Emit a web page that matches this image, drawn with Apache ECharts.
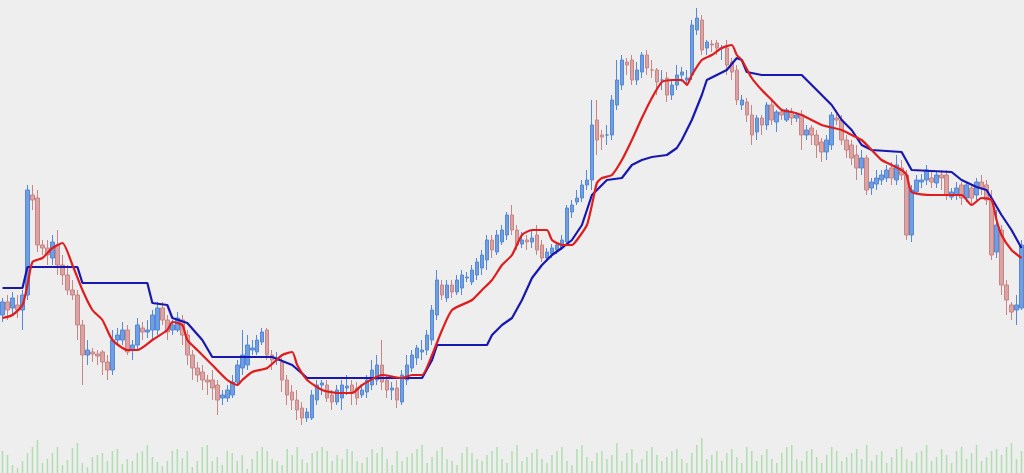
<!DOCTYPE html>
<html>
<head>
<meta charset="utf-8">
<script src="https://cdn.jsdelivr.net/npm/echarts@6/dist/echarts.min.js"></script>
<style>
  html, body { margin: 0; padding: 0; background: #eeeeee; }
  #chart { width: 1024px; height: 473px; }
</style>
</head>
<body>
<div id="chart"></div>
<script>
// candles: [open, close, low, high]
var candles = [
  [165,178,158,182],[178,170,160,185],[172,182,165,188],[175,170,162,185],[170,185,150,190],
  [185,290,180,295],[285,280,270,295],[282,235,228,290],[235,232,225,240],[232,225,215,240],
  [222,238,215,245],[235,215,205,250],[215,205,195,225],[205,190,185,215],[190,185,180,200],
  [185,155,140,190],[155,125,95,160],[125,130,115,140],[128,126,118,132],[126,124,115,130],
  [128,118,105,130],[118,110,100,125],[110,140,105,150],[140,145,135,152],[140,150,135,158],
  [150,128,125,155],[130,135,120,140],[135,155,130,162],[152,148,140,158],[148,150,142,160],
  [150,165,140,170],[150,172,145,178],[172,160,155,178],[160,148,140,165],[150,155,145,160],
  [150,162,148,168],[160,145,135,165],[145,125,115,150],[125,112,100,130],[112,105,98,118],
  [108,100,90,115],[100,98,85,105],[100,92,80,110],[95,80,65,100],[82,85,75,90],
  [82,90,78,95],[85,98,82,105],[98,115,95,120],[112,125,105,150],[115,135,110,145],
  [130,132,125,140],[128,140,125,145],[138,148,135,152],[150,125,120,152],[125,120,110,130],
  [120,122,115,128],[118,100,88,122],[100,85,75,105],[88,80,70,95],[80,70,60,90],
  [72,62,55,78],[62,68,58,72],[62,85,60,90],[80,95,75,100],[95,97,85,100],
  [95,82,78,100],[85,78,70,90],[78,90,75,95],[82,95,70,100],[92,94,85,105],
  [95,88,75,100],[92,82,75,98],[85,90,82,95],[88,100,82,105],[95,110,90,120],
  [100,115,95,125],[115,98,90,140],[100,90,82,105],[90,92,80,98],[92,80,72,100],
  [78,105,75,110],[100,115,95,125],[112,125,108,130],[122,132,115,135],[128,130,120,140],
  [130,145,125,150],[140,170,135,175],[165,200,160,210],[195,185,180,200],[182,195,178,200],
  [195,188,182,200],[188,200,185,205],[192,205,185,210],[202,203,198,208],[198,210,195,215],
  [205,218,200,222],[212,225,205,230],[220,240,210,245],[240,230,222,245],[228,245,225,250],
  [238,250,235,255],[245,265,240,268],[265,250,245,275],[250,235,230,255],[236,240,232,248],
  [240,238,230,245],[238,242,232,250],[245,230,225,255],[235,222,218,240],[222,228,218,232],
  [226,232,222,236],[230,235,226,238],[232,240,230,245],[238,272,235,275],[268,275,262,280],
  [278,282,275,290],[282,295,278,300],[295,300,290,310],[300,355,290,380],[360,340,325,380],
  [345,343,330,350],[345,345,335,355],[345,380,340,385],[375,400,370,420],[395,420,390,425],
  [418,415,405,422],[420,400,395,425],[400,410,395,418],[408,425,402,428],[425,412,405,430],
  [410,410,402,420],[410,398,385,412],[400,400,390,410],[402,385,378,408],[385,395,380,400],
  [395,405,390,415],[405,408,398,413],[400,402,395,410],[405,455,400,460],[450,462,445,472],
  [460,430,425,465],[432,438,425,440],[436,435,428,440],[437,432,425,440],[432,432,420,435],
  [432,415,405,440],[418,408,400,422],[410,380,375,415],[375,380,370,385],[378,365,358,382],
  [365,345,335,375],[348,362,340,365],[362,355,345,365],[355,375,350,378],[375,360,355,380],
  [358,368,348,370],[368,365,360,370],[360,370,358,372],[368,362,355,372],[362,365,358,368],
  [365,345,330,370],[345,350,340,355],[352,345,335,355],[345,335,322,350],[338,328,318,342],
  [328,340,320,345],[335,365,330,368],[362,360,355,370],[360,340,335,365],[340,330,322,345],
  [335,322,315,340],[325,312,300,335],[312,322,305,330],[322,290,285,325],[292,298,285,302],
  [296,302,290,310],[300,305,295,310],[302,310,298,315],[312,302,295,318],[300,315,295,325],
  [312,305,300,320],[305,245,240,310],[245,290,238,295],[288,300,285,305],[298,300,292,306],
  [300,310,295,315],[302,298,292,310],[297,305,292,308],[305,302,290,310],[305,285,280,310],
  [283,288,280,292],[285,292,280,298],[295,282,275,298],[282,295,278,298],[292,282,275,295],
  [285,298,280,302],[298,292,285,305],[295,280,275,300],[280,225,220,290],[228,255,222,270],
  [250,195,185,255],[195,180,165,200],[175,168,160,178],[170,175,155,185],[172,235,170,240]
];

// [candle index, value]
var redLine = [
  [0,162],[2,165],[4,175],[5,195],[6,218],[8,222],[10,232],[12,237],[14,215],[16,190],
  [18,170],[20,160],[22,140],[25,130],[27,130],[30,140],[33,150],[34,158],[36,155],[37,140],
  [39,130],[42,115],[45,100],[47,95],[48,100],[50,108],[53,112],[56,125],[58,128],[59,115],
  [61,100],[64,90],[67,87],[70,87],[72,95],[76,105],[80,102],[82,105],[84,105],[86,125],
  [88,150],[90,170],[94,180],[96,190],[98,200],[100,215],[102,225],[104,245],[106,250],[109,250],
  [110,240],[112,235],[114,235],[115,240],[117,255],[118,275],[119,297],[120,302],[122,305],[124,320],
  [126,340],[128,362],[130,382],[132,398],[134,400],[136,400],[137,395],[138,405],[140,420],[142,425],
  [144,432],[146,435],[147,425],[148,420],[150,402],[152,390],[154,380],[156,370],[158,368],[160,365],
  [164,355],[168,350],[170,345],[172,340],[174,330],[176,320],[178,315],[180,310],[181,305],[182,288],
  [186,285],[192,285],[194,275],[196,282],[198,280],[199,260],[200,245],[202,230],[204,222]
];
var blueLine = [
  [0,192],[4,192],[5,213],[15,213],[16,197],[29,197],[30,177],[33,175],[34,162],[37,157],
  [40,140],[42,123],[54,123],[58,115],[61,102],[84,102],[86,120],[87,135],[97,135],[98,145],
  [100,155],[102,162],[104,180],[106,202],[108,215],[110,225],[112,232],[114,240],[116,255],[118,285],
  [120,295],[121,300],[124,302],[126,315],[128,320],[130,323],[133,325],[135,332],[136,340],[138,360],
  [140,385],[141,400],[143,405],[145,410],[147,422],[148,420],[149,408],[152,405],[160,405],[162,395],
  [166,375],[168,360],[170,350],[172,335],[174,330],[180,328],[182,310],[190,308],[192,300],[195,293],
  [197,290],[198,282],[200,265],[202,250],[204,232]
];

var volumes = [
  22,18,8,5,12,20,26,33,10,14,20,26,8,13,25,30,10,6,16,18,
  20,12,22,24,9,14,12,20,22,28,16,11,7,12,22,24,15,22,6,12,
  26,28,12,16,8,22,20,12,18,4,14,22,26,22,14,12,8,24,18,26,
  14,10,20,22,26,22,12,18,14,24,22,12,10,16,24,20,26,14,8,22,
  12,16,20,24,28,10,16,22,26,14,12,8,20,26,20,14,12,18,22,26,
  14,10,22,28,12,16,20,24,14,10,18,22,26,12,8,24,28,16,12,20,
  22,14,18,30,12,20,24,10,14,22,26,18,12,16,22,24,14,10,20,28,
  35,14,18,22,12,20,24,16,10,26,22,12,18,24,14,10,20,26,28,14,
  12,22,24,16,10,18,26,22,12,16,20,24,14,28,12,18,22,10,16,24,
  26,14,12,20,22,28,12,16,24,18,10,22,26,14,20,28,12,16,22,24,
  18,26,30,14,22
];

var categories = candles.map(function (c, i) { return String(i); });

var chart = echarts.init(document.getElementById('chart'));
chart.setOption({
  backgroundColor: '#eeeeee',
  animation: false,
  grid: [
    { left: 0, right: 0, top: 0, bottom: 0 },
    { left: 0, right: 0, height: 35, bottom: 0 }
  ],
  xAxis: [
    { type: 'category', data: categories, gridIndex: 0, show: false, boundaryGap: true },
    { type: 'category', data: categories, gridIndex: 1, show: false, boundaryGap: true }
  ],
  yAxis: [
    { type: 'value', gridIndex: 0, min: 7, max: 480, show: false, splitLine: { show: false } },
    { type: 'value', gridIndex: 1, min: 0, max: 35, show: false, splitLine: { show: false } }
  ],
  series: [
    {
      type: 'bar',
      xAxisIndex: 1, yAxisIndex: 1,
      data: volumes,
      barWidth: 1.5,
      itemStyle: { color: '#b0deb0' }
    },
    {
      type: 'candlestick',
      data: candles,
      barWidth: 4,
      itemStyle: {
        color: '#6f9fe2',
        color0: '#dca3a3',
        borderColor: '#5588d6',
        borderColor0: '#c98585',
        borderWidth: 1
      }
    },
    {
      type: 'line',
      data: blueLine,
      symbol: 'none',
      lineStyle: { color: '#1818b0', width: 2.2 }
    },
    {
      type: 'line',
      data: redLine,
      symbol: 'none',
      smooth: 0.2,
      lineStyle: { color: '#e01c1c', width: 2.2 }
    }
  ]
});
</script>
</body>
</html>
